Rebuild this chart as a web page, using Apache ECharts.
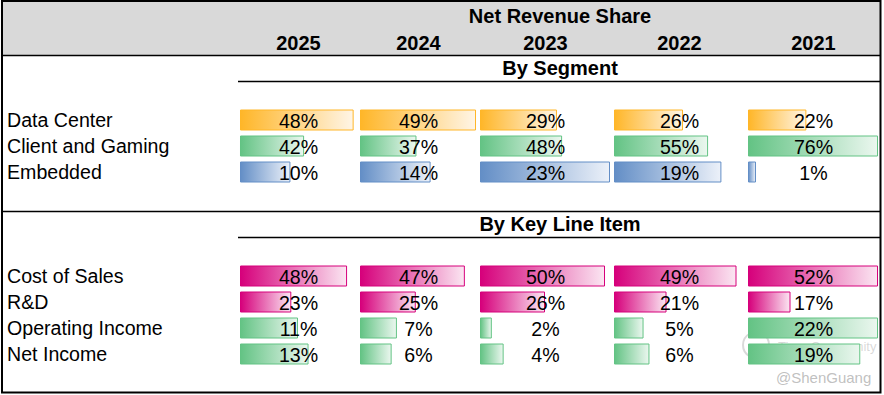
<!DOCTYPE html>
<html><head><meta charset="utf-8">
<script src="https://cdn.jsdelivr.net/npm/echarts@6/dist/echarts.min.js"></script>
<style>html,body{margin:0;padding:0;background:#fff}#chart{width:884px;height:395px}</style>
</head><body><div id="chart"></div>
<script>
// ---- data ----
const title = 'Net Revenue Share';
const years = ['2025', '2024', '2023', '2022', '2021'];
const sectionTitles = ['By Segment', 'By Key Line Item'];
const segmentRows = ['Data Center', 'Client and Gaming', 'Embedded'];
const lineItemRows = ['Cost of Sales', 'R&D', 'Operating Income', 'Net Income'];
const dataCenter = [48, 49, 29, 26, 22];
const clientGaming = [42, 37, 48, 55, 76];
const embedded = [10, 14, 23, 19, 1];
const costOfSales = [48, 47, 50, 49, 52];
const rnd = [23, 25, 26, 21, 17];
const operatingIncome = [11, 7, 2, 5, 22];
const netIncome = [13, 6, 4, 6, 19];
// rows sharing one data-bar scale (as in the source sheet)
const scaleGroups = [['Data Center'], ['Client and Gaming'], ['Embedded'], ['Cost of Sales', 'R&D'], ['Operating Income', 'Net Income']];

// ---- layout / style ----
const FONT = 'Liberation Sans, Arial, sans-serif';
const FS = 19.6;
const colLeft = [240, 360, 480, 614, 748];
const colW = [120, 120, 134, 134, 134];
const rowDefs = [
  { name: segmentRows[0], values: dataCenter, color: '#FFB628', end: '#FFF5E6', y: 120 },
  { name: segmentRows[1], values: clientGaming, color: '#63C384', end: '#EBF7EF', y: 146 },
  { name: segmentRows[2], values: embedded, color: '#638EC6', end: '#ECF1F9', y: 172 },
  { name: lineItemRows[0], values: costOfSales, color: '#D6007B', end: '#FBE6F2', y: 276 },
  { name: lineItemRows[1], values: rnd, color: '#D6007B', end: '#FBE6F2', y: 302 },
  { name: lineItemRows[2], values: operatingIncome, color: '#63C384', end: '#EBF7EF', y: 328 },
  { name: lineItemRows[3], values: netIncome, color: '#63C384', end: '#EBF7EF', y: 354 }
];
function groupMax(name) {
  const g = scaleGroups.find(gr => gr.includes(name));
  let m = 0;
  g.forEach(n => { const r = rowDefs.find(d => d.name === n); m = Math.max(m, ...r.values); });
  return m;
}

const grids = [], xAxes = [], yAxes = [], series = [];
rowDefs.forEach((row, r) => {
  const mx = groupMax(row.name);
  years.forEach((yr, c) => {
    const g = grids.length;
    grids.push({ left: colLeft[c], top: row.y - 11, width: colW[c] - 4, height: 22, containLabel: false });
    xAxes.push({ gridIndex: g, type: 'value', min: 0, max: mx, show: false });
    yAxes.push({
      gridIndex: g, type: 'category', data: [row.name], show: c === 0,
      axisLine: { show: false }, axisTick: { show: false }, splitLine: { show: false },
      axisLabel: { show: c === 0, align: 'left', verticalAlign: 'middle', padding: [0, 0, 0, 0],
        margin: 233, fontSize: FS, color: '#000', fontFamily: FONT }
    });
    series.push({
      type: 'bar', name: row.name + ' ' + yr, xAxisIndex: g, yAxisIndex: g,
      data: [row.values[c]], barWidth: 21, barMinHeight: 8, silent: true,
      itemStyle: {
        color: new echarts.graphic.LinearGradient(0, 0, 1, 0, [
          { offset: 0, color: row.color }, { offset: 1, color: row.end }]),
        borderColor: row.color, borderWidth: 1
      },
      label: {
        show: true, position: [colW[c] / 2 - 1.5, 11.5], align: 'center', verticalAlign: 'middle',
        formatter: '{c}%', fontSize: FS, color: '#000', fontFamily: FONT
      }
    });
  });
});

const graphic = [
  { type: 'rect', z: -10, shape: { x: 1, y: 0, width: 880, height: 55 }, style: { fill: '#D9D9D9' } },
  { type: 'line', shape: { x1: 1, y1: 55.5, x2: 881, y2: 55.5 }, style: { stroke: '#000', lineWidth: 1.5 } },
  { type: 'line', shape: { x1: 238, y1: 81.5, x2: 881, y2: 81.5 }, style: { stroke: '#000', lineWidth: 1.5 } },
  { type: 'line', shape: { x1: 1, y1: 211.5, x2: 881, y2: 211.5 }, style: { stroke: '#000', lineWidth: 1.5 } },
  { type: 'line', shape: { x1: 238, y1: 237.5, x2: 881, y2: 237.5 }, style: { stroke: '#000', lineWidth: 1.5 } },
  { type: 'rect', shape: { x: 2, y: 1, width: 878.5, height: 391.5 }, style: { fill: 'none', stroke: '#000', lineWidth: 2 } },
  { type: 'text', x: 560, y: 16, style: { text: title, font: 'bold 20px ' + FONT, fill: '#000', align: 'center', verticalAlign: 'middle' } },
  { type: 'text', x: 560, y: 68, style: { text: sectionTitles[0], font: 'bold 20px ' + FONT, fill: '#000', align: 'center', verticalAlign: 'middle' } },
  { type: 'text', x: 560, y: 224, style: { text: sectionTitles[1], font: 'bold 20px ' + FONT, fill: '#000', align: 'center', verticalAlign: 'middle' } },
  // watermark
  { type: 'circle', shape: { cx: 756, cy: 345, r: 13 }, style: { fill: 'none', stroke: 'rgba(170,170,170,0.45)', lineWidth: 2 } },
  { type: 'text', x: 778, y: 346, style: { text: 'Tiger Community', font: '13px ' + FONT, fill: 'rgba(170,170,170,0.45)', align: 'left', verticalAlign: 'middle' } },
  { type: 'text', x: 776, y: 377, style: { text: '@ShenGuang', font: '15px ' + FONT, fill: 'rgba(185,185,185,0.9)', align: 'left', verticalAlign: 'middle' } }
];
years.forEach((yr, c) => {
  graphic.push({ type: 'text', x: colLeft[c] + colW[c] / 2 - 1.5, y: 43, style: { text: yr, font: 'bold 20px ' + FONT, fill: '#000', align: 'center', verticalAlign: 'middle' } });
});

const chart = echarts.init(document.getElementById('chart'), null, { renderer: 'svg' });
chart.setOption({
  animation: false,
  backgroundColor: '#fff',
  grid: grids, xAxis: xAxes, yAxis: yAxes, series: series, graphic: graphic
});
</script></body></html>
